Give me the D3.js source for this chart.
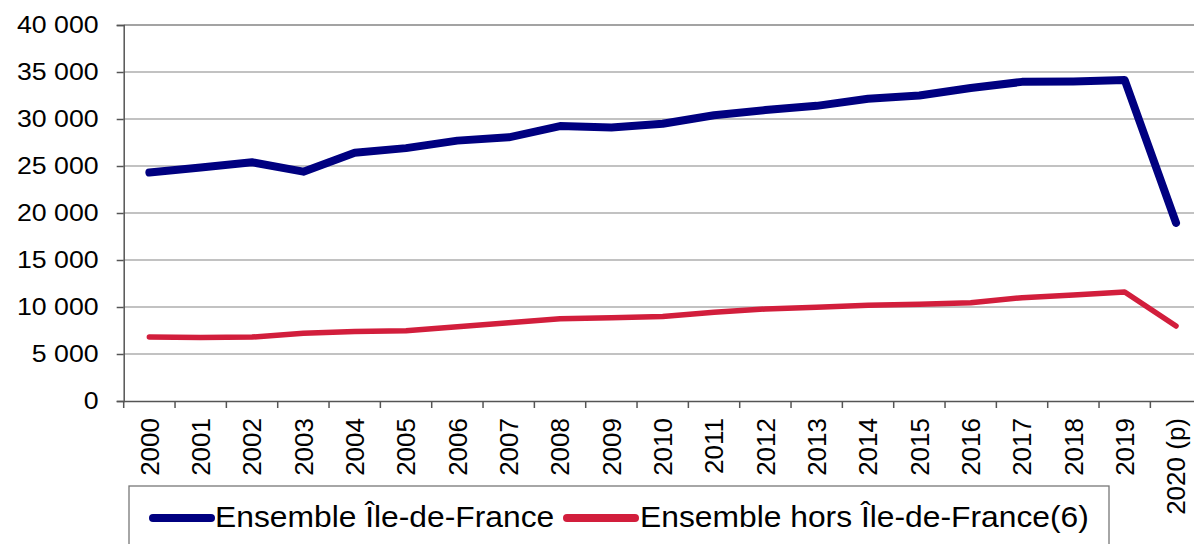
<!DOCTYPE html>
<html>
<head>
<meta charset="utf-8">
<script src="https://cdn.jsdelivr.net/npm/d3@7"></script>
<style>
  body { margin: 0; background: #fff; }
  svg { display: block; font-family: "Liberation Sans", Arial, sans-serif; }
</style>
</head>
<body>
<svg width="1194" height="544"></svg>
<script>
let years = ["2000", "2001", "2002", "2003", "2004", "2005", "2006", "2007", "2008", "2009",
    "2010", "2011", "2012", "2013", "2014", "2015", "2016", "2017", "2018", "2019", "2020 (p)"];
let idf = [24300, 24850, 25400, 24400, 26400, 26900, 27700, 28050, 29250, 29100,
    29500, 30400, 30950, 31400, 32150, 32500, 33300, 33950, 34000, 34150, 18950];
let horsIdf = [6800, 6750, 6800, 7200, 7400, 7480, 7900, 8330, 8750, 8850,
    9000, 9430, 9790, 9970, 10180, 10290, 10460, 10990, 11280, 11600, 7980];
let yTicks = [0, 5000, 10000, 15000, 20000, 25000, 30000, 35000, 40000];
let seriesNames = ["Ensemble Île-de-France", "Ensemble hors Île-de-France(6)"];
let colors = ["#000080", "#d21e3c"];

let svg = d3.select("svg");
let plotLeft = 123.7, plotRight = 1201.7, plotTop = 25, plotBottom = 401;

let x = d3.scaleBand().domain(years).range([plotLeft, plotRight]);
let y = d3.scaleLinear().domain([0, 40000]).range([plotBottom, plotTop]);

let fmt = v => d3.format(",")(v).replace(/,/g, " ");

// gridlines
svg.append("g")
    .selectAll("line")
    .data(yTicks.filter(d => d > 0))
    .enter().append("line")
    .attr("x1", plotLeft).attr("x2", plotRight)
    .attr("y1", d => y(d)).attr("y2", d => y(d))
    .attr("stroke", "#858585")
    .attr("stroke-width", d => d === 40000 ? 1.6 : 1.2);

// y axis
let yAxis = svg.append("g")
    .attr("transform", `translate(${plotLeft},0)`)
    .call(d3.axisLeft(y).tickValues(yTicks).tickSize(7).tickPadding(18).tickFormat(fmt));
yAxis.select(".domain").attr("stroke", "#555").attr("stroke-width", 1.5);
yAxis.selectAll(".tick line").attr("stroke", "#555").attr("stroke-width", 1.5);
// labels are a little wider than the font, stretch them sideways
yAxis.selectAll("text")
    .attr("font-size", 24.5)
    .attr("fill", "#000")
    .attr("font-family", "Liberation Sans, Arial, sans-serif")
    .attr("x", -23)
    .attr("transform", "scale(1.09,1)");

// x axis
let xAxis = svg.append("g")
    .attr("transform", `translate(0,${plotBottom})`)
    .call(d3.axisBottom(x).tickSize(0).tickSizeOuter(0));
xAxis.select(".domain").attr("stroke", "#555").attr("stroke-width", 1.5);
xAxis.selectAll(".tick text")
    .attr("font-size", 26)
    .attr("fill", "#000")
    .attr("font-family", "Liberation Sans, Arial, sans-serif")
    .attr("text-anchor", "end")
    .attr("transform", "rotate(-90)")
    .attr("x", -17)
    .attr("y", 0)
    .attr("dy", "0.36em");

// tick marks between categories
svg.append("g")
    .selectAll("line")
    .data(years)
    .enter().append("line")
    .attr("x1", d => x(d)).attr("x2", d => x(d))
    .attr("y1", plotBottom).attr("y2", plotBottom + 7)
    .attr("stroke", "#555").attr("stroke-width", 1.5);

// lines
let line = d3.line()
    .x((d, i) => x(years[i]) + x.bandwidth() / 2)
    .y(d => y(d));

svg.append("path")
    .datum(horsIdf)
    .attr("d", line)
    .attr("fill", "none")
    .attr("stroke", colors[1])
    .attr("stroke-width", 5.5)
    .attr("stroke-linecap", "round")
    .attr("stroke-linejoin", "round");

svg.append("path")
    .datum(idf)
    .attr("d", line)
    .attr("fill", "none")
    .attr("stroke", colors[0])
    .attr("stroke-width", 8)
    .attr("stroke-linecap", "round")
    .attr("stroke-linejoin", "round");

// legend
let legend = svg.append("g");
legend.append("rect")
    .attr("x", 129).attr("y", 486)
    .attr("width", 980).attr("height", 80)
    .attr("fill", "#fff")
    .attr("stroke", "#777")
    .attr("stroke-width", 1.3);

let legendX = [153, 567];
let item = legend.selectAll(".item")
    .data(seriesNames)
    .enter().append("g")
    .attr("class", "item")
    .attr("transform", (d, i) => `translate(${legendX[i]},0)`);

item.append("line")
    .attr("x1", 0).attr("x2", (d, i) => i === 0 ? 58 : 68)
    .attr("y1", 518).attr("y2", 518)
    .attr("stroke", (d, i) => colors[i])
    .attr("stroke-width", 8)
    .attr("stroke-linecap", "round");

item.append("text")
    .attr("transform", (d, i) => `translate(${i === 0 ? 62 : 73},527) scale(1.06,1)`)
    .attr("font-size", 30)
    .attr("fill", "#000")
    .text(d => d);
</script>
</body>
</html>
